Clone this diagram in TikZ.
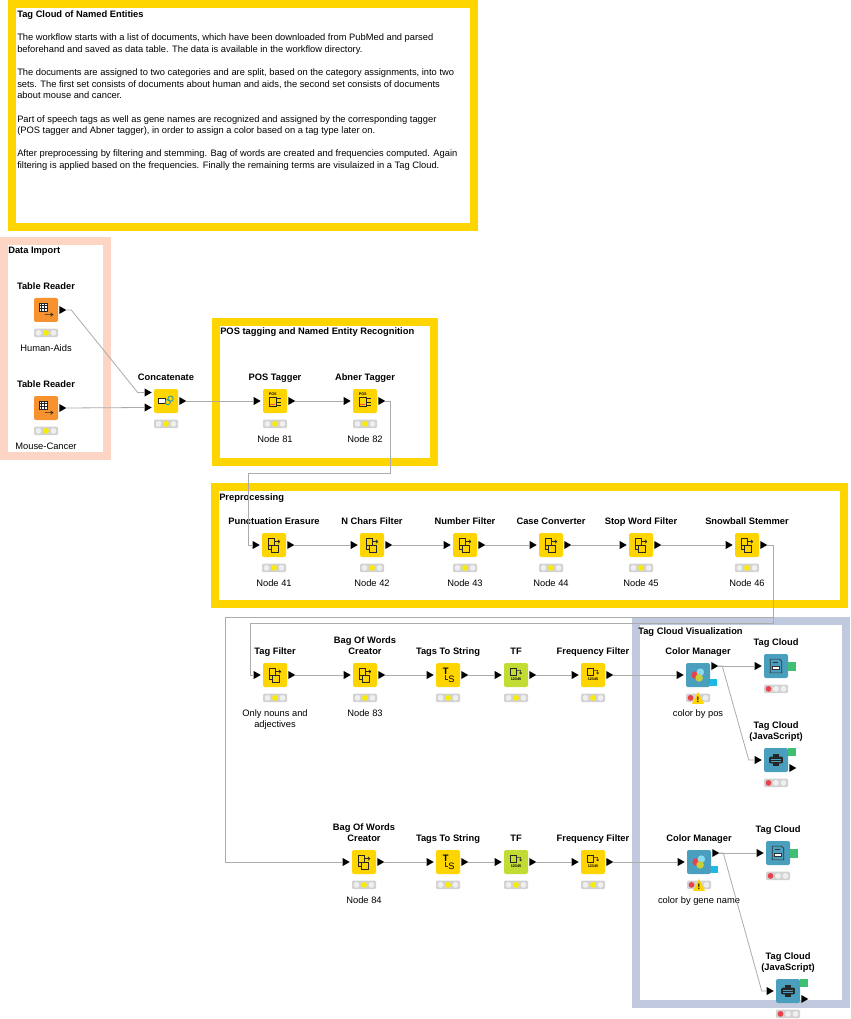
\documentclass[tikz,border=0pt]{standalone}
\usepackage{fontspec}
\setmainfont{Liberation Sans}
\usetikzlibrary{positioning,calc}

\definecolor{kyellow}{HTML}{FFD500}
\definecolor{korange}{HTML}{F7922F}
\definecolor{klime}{HTML}{C2DC34}
\definecolor{kblue}{HTML}{4A9EBE}
\definecolor{kpeach}{HTML}{FCD5C4}
\definecolor{kslate}{HTML}{C1C9DF}
\definecolor{kgreen}{HTML}{3FBF72}
\definecolor{kcyan}{HTML}{1DB9E5}
\definecolor{conngray}{HTML}{ABABAB}
\definecolor{tlbox}{HTML}{D2D2D2}
\definecolor{tlw}{HTML}{EFEFEF}
\definecolor{tly}{HTML}{F9EC00}
\definecolor{tlr}{HTML}{E8434D}
\definecolor{cmcyan}{HTML}{8ADAF0}
\definecolor{cmlime}{HTML}{C7CF3A}

\tikzset{
  kbox/.style={rounded corners=1.5pt, minimum size=18pt, inner sep=0pt},
  srcbox/.style={kbox, fill=korange},
  manbox/.style={kbox, fill=kyellow},
  lrnbox/.style={kbox, fill=klime},
  vizbox/.style={kbox, fill=kblue},
  ttl/.style={font=\bfseries\fontsize{7}{8.7}\selectfont, align=center, inner sep=0pt},
  sub/.style={font=\fontsize{7}{8.7}\selectfont, align=center, inner sep=0pt},
  desc/.style={font=\fontsize{7}{8.7}\selectfont, align=left, inner sep=0pt},
  tlight/.style={fill=tlbox, rounded corners=1pt, minimum width=18pt,
    minimum height=6.5pt, inner sep=0pt},
  conn/.style={draw=conngray, line width=0.6pt},
  annot/.style={line width=6pt},
  glyph/.style={draw=black!85, line width=0.5pt},
  tiny/.style={font=\bfseries\fontsize{2.8}{3}\selectfont, inner sep=0pt},
  gdoc/.pic={
    \draw[glyph] (-5,-6) rectangle (0,0);
    \draw[glyph] (0,-3) -- (5,-3) (3.5,-4.5) -- (5,-3) -- (3.5,-1.5);
    \draw[glyph] (-2,0) rectangle (4,6);
    \draw[glyph] (-5,1) -- (-5,4) -- (-2,4);
  },
  gpos/.pic={
    \node[tiny] at (-2,-6) {POS};
    \draw[glyph] (-5,-3) rectangle (1,5);
    \draw[glyph] (2,-2) -- (5,-2) (2,1) -- (5,1) (2,4) -- (5,4);
    \draw[red!70, line width=0.5pt] (-4,3) -- (0,3);
  },
  gtbl/.pic={
    \draw[glyph, fill=white] (-6,-6) rectangle (1,1);
    \draw[glyph] (-6,-3.7) -- (1,-3.7) (-6,-1.3) -- (1,-1.3)
      (-3.7,-6) -- (-3.7,1) (-1.3,-6) -- (-1.3,1);
    \draw[glyph] (-1,4) -- (6,4) (4,2.5) -- (6,4) -- (4,5.5);
  },
  gcat/.pic={
    \draw[glyph, fill=white] (-7,-2) rectangle (-1,2);
    \draw[kcyan!80!black, line width=0.6pt] (1.5,1) circle (2.3) (4,-2) circle (2.3);
  },
  gtts/.pic={
    \node[font=\bfseries\fontsize{7}{8}\selectfont, inner sep=0pt] at (-2,-3) {T};
    \node[font=\fontsize{7}{8}\selectfont, inner sep=0pt] at (3,3.5) {S};
    \draw[glyph] (-2,0) -- (-2,4) -- (0,4);
  },
  gtf/.pic={
    \draw[glyph] (-5,-6) rectangle (0,0);
    \draw[glyph] (0,-4) -- (4,-4) -- (4,-1) (3,-2) -- (4,-1) -- (5,-2);
    \node[tiny] at (0,4) {12345};
  },
  gcm/.pic={
    \fill[tlr] (-2.5,0) circle (3.3);
    \fill[cmcyan] (2,-2.5) circle (3.3);
    \fill[cmlime] (1,2.5) circle (3.3);
  },
  gtc/.pic={
    \draw[black!80, line width=0.5pt] (-5,-6) -- (3,-6) -- (5,-4) -- (5,6) -- (-5,6) -- cycle;
    \draw[black!80, line width=0.4pt] (-3,-3) -- (2,-3);
    \draw[black!80, fill=white, line width=0.3pt] (-3,0) rectangle (3,3);
  },
  gjs/.pic={
    \fill[black!85, rounded corners=1pt] (-6,-3) rectangle (6,3);
    \fill[black!85] (-3,-5) rectangle (3,5);
    \draw[kblue, line width=0.5pt] (-4,-1) -- (4,-1) (-4,1) -- (4,1);
  }
}

% name, x, y, kind, glyph, title, sub label, traffic light
\newcommand{\knode}[8]{%
  \node[#4] (#1) at (#2,#3) {};
  \pic[scale=1.15] at (#1) {#5};
  \node[ttl, above=3pt of #1] (#1-ttl) {#6\strut};
  \node[tlight, below=4.5pt of #1] (#1-tl) {};
  \foreach \c [count=\i] in {#8}
    \fill[\c] (#1-tl) ++({\i*7.5-15},0) circle (2.9);
  \if\relax\detokenize{#7}\relax\else
    \node[sub, below=4pt of #1-tl] (#1-sub) {\strut#7};
  \fi
}

\begin{document}
\begin{tikzpicture}[x=0.75pt, y=-0.75pt]
  \useasboundingbox (0,0) rectangle (850,1019);

  % annotations
  \draw[annot, kyellow] (12,4) rectangle (474,227);
  \draw[annot, kpeach] (4,241) rectangle (107,456);
  \draw[annot, kyellow] (216,322) rectangle (434,462);
  \draw[annot, kyellow] (215,487) rectangle (844,604);
  \draw[annot, kslate] (636,621) rectangle (846,1004);

  \node[desc, anchor=north west] (desc) at (17,9.4) {%
    \textbf{Tag Cloud of Named Entities}\strut\\[8.7pt]
    The workflow starts with a list of documents, which have been downloaded from PubMed and parsed\\
    beforehand and saved as data table. The data is available in the workflow directory.\\[8.7pt]
    The documents are assigned to two categories and are split, based on the category assignments, into two\\
    sets. The first set consists of documents about human and aids, the second set consists of documents\\
    about mouse and cancer.\\[8.7pt]
    Part of speech tags as well as gene names are recognized and assigned by the corresponding tagger\\
    (POS tagger and Abner tagger), in order to assign a color based on a tag type later on.\\[8.7pt]
    After preprocessing by filtering and stemming. Bag of words are created and frequencies computed. Again\\
    filtering is applied based on the frequencies. Finally the remaining terms are visulaized in a Tag Cloud.};

  \node[ttl, anchor=base west] (imp) at (8,253.5) {Data Import};
  \node[ttl, anchor=base west] (ner) at (220,334.5) {POS tagging and Named Entity Recognition};
  \node[ttl, anchor=base west] (pre) at (219,500.5) {Preprocessing};
  \node[ttl, anchor=base west] (vis) at (638,634.5) {Tag Cloud Visualization};

  % nodes
  \knode{tr1}{46}{310}{srcbox}{gtbl}{Table Reader}{Human-Aids}{tlw,tly,tlw}
  \knode{tr2}{46}{408}{srcbox}{gtbl}{Table Reader}{Mouse-Cancer}{tlw,tly,tlw}
  \knode{cat}{166}{401}{manbox}{gcat}{Concatenate}{}{tlw,tly,tlw}
  \knode{pos}{275}{401}{manbox}{gpos}{POS Tagger}{Node 81}{tlw,tly,tlw}
  \knode{abn}{365}{401}{manbox}{gpos}{Abner Tagger}{Node 82}{tlw,tly,tlw}
  \knode{pe}{274}{545}{manbox}{gdoc}{Punctuation Erasure}{Node 41}{tlw,tly,tlw}
  \knode{nc}{372}{545}{manbox}{gdoc}{N Chars Filter}{Node 42}{tlw,tly,tlw}
  \knode{nf}{465}{545}{manbox}{gdoc}{Number Filter}{Node 43}{tlw,tly,tlw}
  \knode{cc}{551}{545}{manbox}{gdoc}{Case Converter}{Node 44}{tlw,tly,tlw}
  \knode{sw}{641}{545}{manbox}{gdoc}{Stop Word Filter}{Node 45}{tlw,tly,tlw}
  \knode{ss}{747}{545}{manbox}{gdoc}{Snowball Stemmer}{Node 46}{tlw,tly,tlw}
  \knode{tgf}{275}{675}{manbox}{gdoc}{Tag Filter}{Only nouns and\\adjectives}{tlw,tly,tlw}
  \knode{bow1}{365}{675}{manbox}{gdoc}{Bag Of Words\\Creator}{Node 83}{tlw,tly,tlw}
  \knode{tts1}{448}{675}{manbox}{gtts}{Tags To String}{}{tlw,tly,tlw}
  \knode{tf1}{516}{675}{lrnbox}{gtf}{TF}{}{tlw,tly,tlw}
  \knode{ff1}{593}{675}{manbox}{gtf}{Frequency Filter}{}{tlw,tly,tlw}
  \knode{cm1}{698}{675}{vizbox}{gcm}{Color Manager}{color by pos}{tlr,tlw,tlw}
  \knode{tc1}{776}{666}{vizbox}{gtc}{Tag Cloud}{}{tlr,tlw,tlw}
  \knode{js1}{776}{760}{vizbox}{gjs}{Tag Cloud\\(JavaScript)}{}{tlr,tlw,tlw}
  \knode{bow2}{364}{862}{manbox}{gdoc}{Bag Of Words\\Creator}{Node 84}{tlw,tly,tlw}
  \knode{tts2}{448}{862}{manbox}{gtts}{Tags To String}{}{tlw,tly,tlw}
  \knode{tf2}{516}{862}{lrnbox}{gtf}{TF}{}{tlw,tly,tlw}
  \knode{ff2}{593}{862}{manbox}{gtf}{Frequency Filter}{}{tlw,tly,tlw}
  \knode{cm2}{699}{862}{vizbox}{gcm}{Color Manager}{color by gene name}{tlr,tlw,tlw}
  \knode{tc2}{778}{853}{vizbox}{gtc}{Tag Cloud}{}{tlr,tlw,tlw}
  \knode{js2}{788}{991}{vizbox}{gjs}{Tag Cloud\\(JavaScript)}{}{tlr,tlw,tlw}

  % ports
  \foreach \n in {pos,abn,pe,nc,nf,cc,sw,ss,tgf,bow1,tts1,tf1,ff1,
                  bow2,tts2,tf2,ff2,cm1,cm2,tc1,tc2,js1,js2} {
    \fill (\n.west) ++(-9,-4) -- ++(7,4) -- ++(-7,4) -- cycle;
    \path (\n.west) ++(-9,0) coordinate (\n-in);
  }
  \foreach \n in {tr1,tr2,cat,pos,abn,pe,nc,nf,cc,sw,ss,tgf,bow1,tts1,tf1,ff1,
                  bow2,tts2,tf2,ff2} {
    \fill (\n.east) ++(1,-4) -- ++(7,4) -- ++(-7,4) -- cycle;
    \path (\n.east) ++(8,0) coordinate (\n-out);
  }
  \foreach \k/\d in {1/-8.5, 2/6.5} {
    \fill (cat.west) ++(-9,{\d-4}) -- ++(7,4) -- ++(-7,4) -- cycle;
    \path (cat.west) ++(-9,\d) coordinate (cat-in\k);
  }
  \foreach \n in {cm1,cm2} {
    \fill (\n.east) ++(1,-13) -- ++(7,4) -- ++(-7,4) -- cycle;
    \path (\n.east) ++(8,-9) coordinate (\n-out);
    \fill[kcyan] (\n.east) ++(0,4) rectangle ++(7,7);
    \fill[kyellow] (\n-tl) ++(-6,6) -- ++(12,0) -- ++(-6,-12) -- cycle;
    \path (\n-tl) ++(0,1.5) node[font=\bfseries\fontsize{6}{6}\selectfont, inner sep=0pt] {!};
  }
  \foreach \n in {tc1,tc2}
    \fill[kgreen] (\n.east) ++(0,-4) rectangle ++(8,9);
  \foreach \n in {js1,js2} {
    \fill[kgreen] (\n.east) ++(0,-12) rectangle ++(8,8);
    \fill (\n.east) ++(1,4) -- ++(7,4) -- ++(-7,4) -- cycle;
  }

  % connections
  \draw[conn] (tr1-out) -- ++(5,0) -- ($(cat-in1)+(-7,0)$) -- (cat-in1);
  \draw[conn] (tr2-out) -- (cat-in2);
  \draw[conn] (cat-out) -- (pos-in);
  \draw[conn] (pos-out) -- (abn-in);
  \draw[conn] (abn-out) -- ++(5,0) |- (248,473) |- (pe-in);
  \foreach \a/\b in {pe/nc, nc/nf, nf/cc, cc/sw, sw/ss,
                     tgf/bow1, bow1/tts1, tts1/tf1, tf1/ff1, ff1/cm1,
                     bow2/tts2, tts2/tf2, tf2/ff2, ff2/cm2}
    \draw[conn] (\a-out) -- (\b-in);
  \draw[conn] (ss-out) -- ++(6,0) |- (250,623) |- (tgf-in);
  \draw[conn] (ss-out) -- ++(6,0) |- (225,617) |- (bow2-in);
  \draw[conn] (cm1-out) -- (tc1-in);
  \draw[conn] (cm1-out) -- ++(4,0) -- ($(js1-in)+(-6,0)$) -- (js1-in);
  \draw[conn] (cm2-out) -- (tc2-in);
  \draw[conn] (cm2-out) -- ++(4,0) -- ($(js2-in)+(-5,0)$) -- (js2-in);
\end{tikzpicture}
\end{document}
